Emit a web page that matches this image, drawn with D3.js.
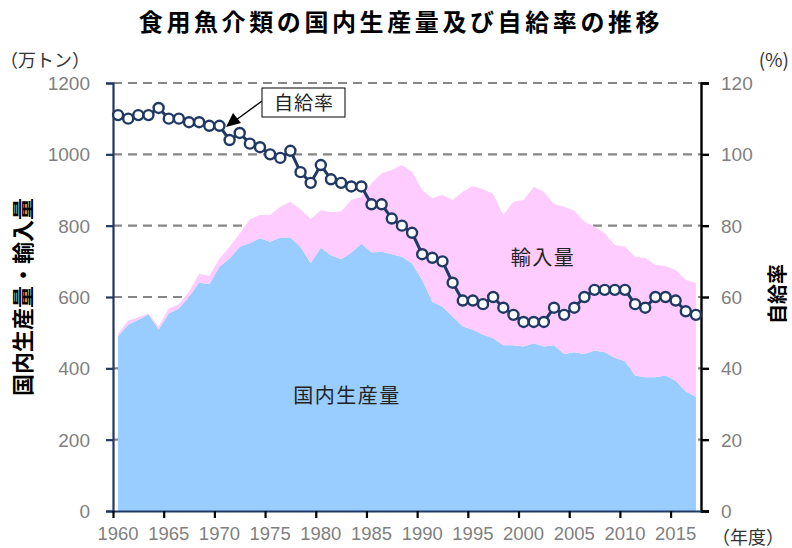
<!DOCTYPE html>
<html>
<head>
<meta charset="utf-8">
<script src="https://cdn.jsdelivr.net/npm/d3@7"></script>
<style>
  body { margin: 0; background: #fff; }
  svg { display: block; }
</style>
</head>
<body>
<div class="chart"></div>
<script>
// years (fiscal) 1960-2017
const years = d3.range(1960, 2018);

// 国内生産量 (万トン)
const production = [490, 523, 536, 551, 509, 554, 568, 601, 641, 636,
    685, 708, 741, 751, 765, 755, 767, 767, 740, 695,
    738, 717, 706, 724, 749, 725, 727, 720, 713, 694,
    648, 587, 573, 545, 517, 508, 494, 484, 465, 465,
    461, 470, 461, 465, 440, 445, 440, 450, 445, 430,
    420, 380, 375, 375, 380, 365, 335, 320];

// 輸入量 (万トン)
const imports = [7, 11, 7, 3, 8, 14, 12, 14, 24, 23,
    23, 32, 37, 67, 65, 75, 86, 100, 105, 124,
    105, 121, 134, 148, 132, 194, 220, 236, 257, 257,
    252, 290, 313, 327, 378, 403, 408, 405, 365, 402,
    411, 439, 434, 396, 413, 397, 371, 347, 334, 316,
    321, 333, 334, 315, 307, 311, 313, 320];

// 自給率 (%)
const selfRate = [111, 110, 111, 111, 113, 110, 110, 109, 109, 108,
    108, 104, 106, 103, 102, 100, 99, 101, 95, 92,
    97, 93, 92, 91, 91, 86, 86, 82, 80, 78,
    72, 71, 70, 64, 59, 59, 58, 60, 57, 55,
    53, 53, 53, 57, 55, 57, 60, 62, 62, 62,
    62, 58, 57, 60, 60, 59, 56, 55];

const leftTicks = [0, 200, 400, 600, 800, 1000, 1200];
const rightTicks = [0, 20, 40, 60, 80, 100, 120];
const xLabels = [1960, 1965, 1970, 1975, 1980, 1985, 1990, 1995, 2000, 2005, 2010, 2015];

const w = 792,
    h = 548,
    plotL = 113,
    plotR = 701,
    plotT = 83,
    plotB = 511,
    navy = "#203864",
    numFont = "'Liberation Sans', Arial, sans-serif",
    jpFont = "'Noto Sans CJK JP', sans-serif";

const xScale = d3.scaleLinear()
    .domain([1959.5, 2017.5])
    .range([plotL, plotR]);

const yLeft = d3.scaleLinear()
    .domain([0, 1200])
    .range([plotB, plotT]);

const yRight = d3.scaleLinear()
    .domain([0, 120])
    .range([plotB, plotT]);

const table = years.map((y, i) => ({year: y, production: production[i], imports: imports[i]}));
const stacked = d3.stack().keys(["production", "imports"])(table);

const svg = d3.select(".chart")
    .append("svg")
    .attr("width", w)
    .attr("height", h);

// title
svg.append("text")
    .attr("x", 401)
    .attr("y", 31)
    .attr("text-anchor", "middle")
    .attr("font-family", jpFont)
    .attr("font-weight", "bold")
    .attr("font-size", 24)
    .attr("letter-spacing", 3.6)
    .text("食用魚介類の国内生産量及び自給率の推移");

// dashed grid
svg.append("g")
    .selectAll("line")
    .data(leftTicks.filter(d => d > 0))
    .enter()
    .append("line")
    .attr("x1", plotL)
    .attr("x2", plotR)
    .attr("y1", d => yLeft(d))
    .attr("y2", d => yLeft(d))
    .attr("stroke", "#868686")
    .attr("stroke-width", 2.2)
    .attr("stroke-dasharray", "9,6");

// stacked areas
const area = d3.area()
    .x(d => xScale(d.data.year))
    .y0(d => yLeft(d[0]))
    .y1(d => yLeft(d[1]));

const fills = ["#99ccff", "#ffccff"];
svg.append("g")
    .selectAll("path")
    .data(stacked)
    .enter()
    .append("path")
    .attr("d", area)
    .attr("fill", (d, i) => fills[i]);

// axes
const leftAxis = svg.append("g")
    .attr("transform", "translate(" + plotL + ",0)")
    .call(d3.axisLeft(yLeft).tickValues(leftTicks).tickSize(7).tickFormat(""));
leftAxis.selectAll("path, line").attr("stroke", navy).attr("stroke-width", 2.2);

const rightAxis = svg.append("g")
    .attr("transform", "translate(" + plotR + ",0)")
    .call(d3.axisRight(yRight).tickValues(rightTicks).tickSize(8).tickFormat(""));
rightAxis.selectAll("path, line").attr("stroke", "#000").attr("stroke-width", 2.4);

const bottomAxis = svg.append("g")
    .attr("transform", "translate(0," + plotB + ")")
    .call(d3.axisBottom(xScale).tickValues(xLabels.map(d => d - 0.5)).tickSize(7).tickSizeOuter(0).tickFormat(""));
bottomAxis.selectAll("path, line").attr("stroke", "#000").attr("stroke-width", 2.2);
bottomAxis.select("path").attr("stroke", navy);

// tick labels
svg.append("g")
    .selectAll("text")
    .data(leftTicks)
    .enter()
    .append("text")
    .attr("x", 90)
    .attr("y", d => yLeft(d) + 7)
    .attr("text-anchor", "end")
    .attr("font-family", numFont)
    .attr("font-size", 19)
    .attr("fill", "#7f7f7f")
    .text(d => d);

svg.append("g")
    .selectAll("text")
    .data(rightTicks)
    .enter()
    .append("text")
    .attr("x", 721)
    .attr("y", d => yRight(d) + 7)
    .attr("font-family", numFont)
    .attr("font-size", 19)
    .attr("fill", "#7f7f7f")
    .text(d => d);

svg.append("g")
    .selectAll("text")
    .data(xLabels)
    .enter()
    .append("text")
    .attr("x", d => xScale(d))
    .attr("y", 540)
    .attr("text-anchor", "middle")
    .attr("font-family", numFont)
    .attr("font-size", 18.5)
    .attr("fill", "#7f7f7f")
    .text(d => d);

// self-sufficiency line
const line = d3.line()
    .x((d, i) => xScale(years[i]))
    .y(d => yRight(d));

svg.append("path")
    .datum(selfRate)
    .attr("d", line)
    .attr("fill", "none")
    .attr("stroke", navy)
    .attr("stroke-width", 3);

svg.append("g")
    .selectAll("circle")
    .data(selfRate)
    .enter()
    .append("circle")
    .attr("cx", (d, i) => xScale(years[i]))
    .attr("cy", d => yRight(d))
    .attr("r", 5)
    .attr("fill", "#fff")
    .attr("stroke", navy)
    .attr("stroke-width", 2.4);

// unit labels
svg.append("text")
    .attr("x", 0)
    .attr("y", 67)
    .attr("font-family", jpFont)
    .attr("font-size", 18)
    .attr("fill", "#333")
    .text("（万トン）");

svg.append("text")
    .attr("x", 789)
    .attr("y", 67)
    .attr("text-anchor", "end")
    .attr("font-family", jpFont)
    .attr("font-size", 19)
    .attr("fill", "#333")
    .text("(%)");

svg.append("text")
    .attr("x", 712)
    .attr("y", 544)
    .attr("font-family", jpFont)
    .attr("font-size", 18)
    .attr("fill", "#333")
    .text("（年度）");

// axis titles
svg.append("text")
    .attr("transform", "translate(31,297) rotate(-90)")
    .attr("text-anchor", "middle")
    .attr("font-family", jpFont)
    .attr("font-weight", "bold")
    .attr("font-size", 22)
    .text("国内生産量・輸入量");

svg.append("text")
    .attr("transform", "translate(785,294) rotate(-90)")
    .attr("text-anchor", "middle")
    .attr("font-family", jpFont)
    .attr("font-weight", "bold")
    .attr("font-size", 20)
    .text("自給率");

// area labels
svg.append("text")
    .attr("x", 543)
    .attr("y", 265)
    .attr("text-anchor", "middle")
    .attr("font-family", jpFont)
    .attr("font-size", 20)
    .attr("letter-spacing", 1.5)
    .attr("fill", "#222")
    .text("輸入量");

svg.append("text")
    .attr("x", 347)
    .attr("y", 403)
    .attr("text-anchor", "middle")
    .attr("font-family", jpFont)
    .attr("font-size", 20)
    .attr("letter-spacing", 1.5)
    .attr("fill", "#222")
    .text("国内生産量");

// callout
svg.append("line")
    .attr("x1", 262)
    .attr("y1", 101)
    .attr("x2", 236)
    .attr("y2", 120)
    .attr("stroke", "#000")
    .attr("stroke-width", 1.3);

svg.append("path")
    .attr("d", "M226,127 L233,113 L241,123 Z")
    .attr("fill", "#000");

svg.append("rect")
    .attr("x", 262)
    .attr("y", 88)
    .attr("width", 83)
    .attr("height", 29)
    .attr("fill", "#fff")
    .attr("stroke", "#000")
    .attr("stroke-width", 1);

svg.append("text")
    .attr("x", 304)
    .attr("y", 110)
    .attr("text-anchor", "middle")
    .attr("font-family", jpFont)
    .attr("font-size", 19)
    .attr("letter-spacing", 1)
    .attr("fill", "#222")
    .text("自給率");
</script>
</body>
</html>
